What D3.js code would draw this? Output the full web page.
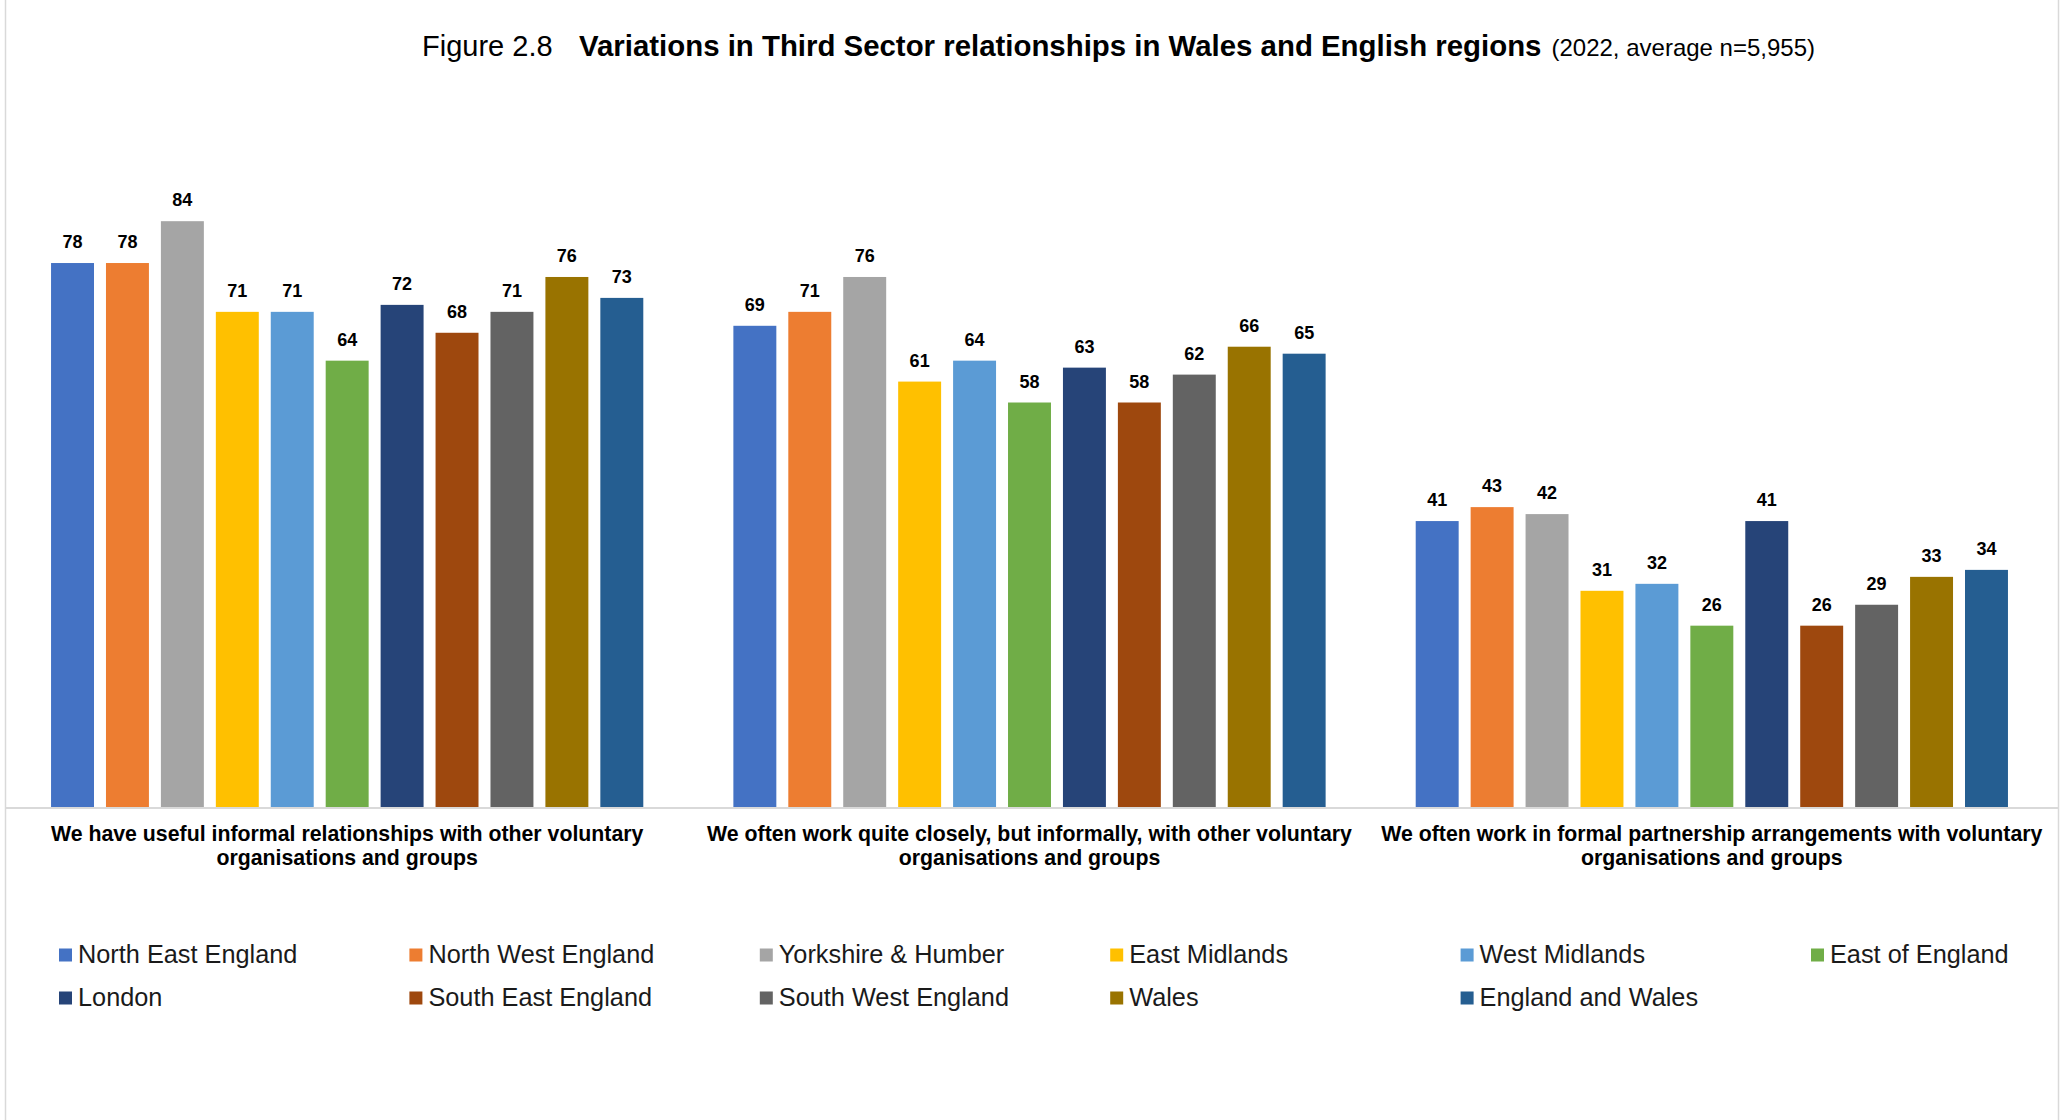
<!DOCTYPE html>
<html>
<head>
<meta charset="utf-8">
<script src="https://cdn.jsdelivr.net/npm/d3@7"></script>
<style>
  html, body { margin: 0; padding: 0; background: #fff; }
  svg { display: block; font-family: "Liberation Sans", Arial, sans-serif; }
</style>
</head>
<body>
<svg id="chart" width="2064" height="1120"></svg>
<script>
// Statements (x-axis categories), each split over two lines
const statements = [
  ["We have useful informal relationships with other voluntary", "organisations and groups"],
  ["We often work quite closely, but informally, with other voluntary", "organisations and groups"],
  ["We often work in formal partnership arrangements with voluntary", "organisations and groups"]
];

const regions = [
  "North East England", "North West England", "Yorkshire & Humber", "East Midlands",
  "West Midlands", "East of England", "London", "South East England",
  "South West England", "Wales", "England and Wales"
];

const regionColours = [
  "#4472C4", "#ED7D31", "#A5A5A5", "#FFC000", "#5B9BD5", "#70AD47",
  "#264478", "#9E480E", "#636363", "#997300", "#255E91"
];

// Percentage agreeing, per statement, in region order
const informalRelationships = [78, 78, 84, 71, 71, 64, 72, 68, 71, 76, 73];
const closeInformalWork     = [69, 71, 76, 61, 64, 58, 63, 58, 62, 66, 65];
const formalPartnerships    = [41, 43, 42, 31, 32, 26, 41, 26, 29, 33, 34];

const seriesByStatement = [informalRelationships, closeInformalWork, formalPartnerships];

const svg = d3.select("#chart");
const W = 2064, H = 1120;

// Frame
svg.append("line").attr("x1", 5.5).attr("x2", 5.5).attr("y1", 0).attr("y2", H)
  .attr("stroke", "#d9d9d9").attr("stroke-width", 1.5);
svg.append("line").attr("x1", 2058.5).attr("x2", 2058.5).attr("y1", 0).attr("y2", H)
  .attr("stroke", "#d9d9d9").attr("stroke-width", 1.5);

// Title
const title = svg.append("text").attr("x", 422).attr("y", 56)
  .attr("fill", "#000").attr("font-size", 29);
title.append("tspan").text("Figure 2.8");
title.append("tspan").attr("x", 579).attr("font-weight", "bold").attr("font-size", 29.4)
  .text("Variations in Third Sector relationships in Wales and English regions");
title.append("tspan").attr("font-size", 24).attr("dx", 10).text("(2022, average n=5,955)");

// Scales
const baseY = 807;
const y = d3.scaleLinear().domain([0, 100]).range([baseY, baseY - 697.4]);

const x0 = d3.scaleBand().domain(d3.range(statements.length)).range([6, 2053]).padding(0);
const x1 = d3.scaleBand().domain(regions).range([0, x0.bandwidth()])
  .paddingInner(0.218).paddingOuter(0.82);

// Bars and value labels
const groups = svg.append("g").selectAll("g")
  .data(seriesByStatement)
  .join("g")
  .attr("transform", (d, i) => `translate(${x0(i)},0)`);

groups.selectAll("rect")
  .data(d => d.map((v, j) => ({ region: regions[j], value: v, colour: regionColours[j] })))
  .join("rect")
  .attr("x", d => x1(d.region))
  .attr("width", x1.bandwidth())
  .attr("y", d => y(d.value))
  .attr("height", d => baseY - y(d.value))
  .attr("fill", d => d.colour);

groups.selectAll("text.value")
  .data(d => d.map((v, j) => ({ region: regions[j], value: v })))
  .join("text")
  .attr("class", "value")
  .attr("x", d => x1(d.region) + x1.bandwidth() / 2)
  .attr("y", d => y(d.value) - 15)
  .attr("text-anchor", "middle")
  .attr("font-size", 18)
  .attr("font-weight", "bold")
  .attr("fill", "#000")
  .text(d => d.value);

// Category axis
svg.append("line").attr("x1", 5).attr("x2", 2058).attr("y1", baseY + 1).attr("y2", baseY + 1)
  .attr("stroke", "#d9d9d9").attr("stroke-width", 2);

const catLabels = svg.append("g").selectAll("text")
  .data(statements)
  .join("text")
  .attr("text-anchor", "middle")
  .attr("font-size", 21.3)
  .attr("font-weight", "bold")
  .attr("fill", "#000");
catLabels.each(function (lines, i) {
  const t = d3.select(this);
  const cx = x0(i) + x0.bandwidth() / 2;
  lines.forEach((line, k) => {
    t.append("tspan").attr("x", cx).attr("y", 841 + k * 24).text(line);
  });
});

// Legend: six columns, two rows
const legendX = d3.scalePoint().domain(d3.range(6)).range([59, 1811]);
const legend = svg.append("g").selectAll("g")
  .data(regions)
  .join("g")
  .attr("transform", (d, i) => `translate(${legendX(i % 6)},${955 + Math.floor(i / 6) * 43})`);
legend.append("rect")
  .attr("x", 0).attr("y", -6.5).attr("width", 13).attr("height", 13)
  .attr("fill", (d, i) => regionColours[i]);
legend.append("text")
  .attr("x", 19).attr("y", 7.5)
  .attr("font-size", 25.3)
  .attr("fill", "#1a1a1a")
  .text(d => d);
</script>
</body>
</html>
